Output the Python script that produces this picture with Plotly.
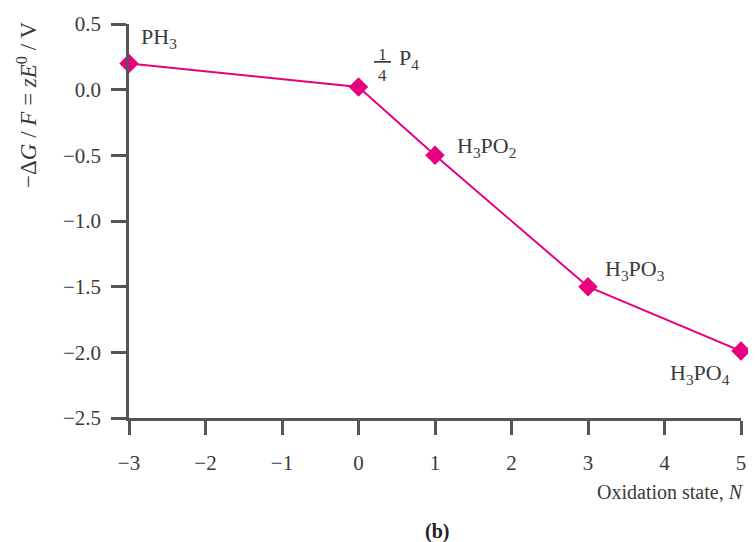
import plotly.graph_objects as go

# data
oxidation_state = [-3, 0, 1, 3, 5]
volt_equiv = [0.2, 0.02, -0.5, -1.5, -1.99]
species = ['PH<sub>3</sub>', 'P<sub>4</sub>', 'H<sub>3</sub>PO<sub>2</sub>',
           'H<sub>3</sub>PO<sub>3</sub>', 'H<sub>3</sub>PO<sub>4</sub>']
x_ticks = [-3, -2, -1, 0, 1, 2, 3, 4, 5]
y_ticks = [0.5, 0.0, -0.5, -1.0, -1.5, -2.0, -2.5]

PINK = '#E8007F'
AXIS = '#555555'
TXT = '#3a3a3a'
FONT = 'Liberation Serif'

fig = go.Figure(go.Scatter(x=oxidation_state, y=volt_equiv,
                           mode='lines+markers',
                           line=dict(color=PINK, width=2),
                           marker=dict(symbol='diamond', size=15, color=PINK),
                           cliponaxis=False, showlegend=False))

# species labels: pixel offsets from each point
offsets = [(10, 25), (38, 28), (20, 8), (15, 17), (-9, -23)]
anchors = ['left', 'left', 'left', 'left', 'right']
for x, y, s, (dx, dy), xa in zip(oxidation_state, volt_equiv, species, offsets, anchors):
    fig.add_annotation(x=x, y=y, text=s, showarrow=False, xshift=dx, yshift=dy,
                       xanchor=xa, yanchor='middle',
                       font=dict(family=FONT, size=22, color=TXT))

# the stacked 1/4 in front of P4 (underlined 1 over 4)
for txt, dy in [('<u> 1 </u>', 33), ('4', 12)]:
    fig.add_annotation(x=oxidation_state[1], y=volt_equiv[1], text=txt, showarrow=False,
                       xshift=24, yshift=dy, xanchor='center', yanchor='middle',
                       font=dict(family=FONT, size=17, color=TXT))

fig.add_annotation(xref='paper', yref='paper', x=1.008, y=-0.188, text='Oxidation state, <i>N</i>',
                   showarrow=False, xanchor='right', yanchor='middle',
                   font=dict(family=FONT, size=20, color=TXT))
fig.add_annotation(xref='paper', yref='paper', x=0.503, y=-0.289, text='<b>(b)</b>',
                   showarrow=False, xanchor='center', yanchor='middle',
                   font=dict(family=FONT, size=20, color='#222'))
fig.add_annotation(xref='paper', yref='paper', x=-0.167, y=0.794,
                   text='−Δ<i>G</i> / <i>F</i> = <i>zE</i><sup>0</sup> / V', textangle=-90,
                   showarrow=False, xanchor='center', yanchor='middle',
                   font=dict(family=FONT, size=23, color=TXT))

fig.update_xaxes(range=[-3, 5], tickvals=x_ticks,
                 ticktext=[str(v).replace('-', '−') for v in x_ticks],
                 showline=True, linecolor=AXIS, linewidth=2.5, ticks='outside',
                 ticklen=14, tickwidth=2.5, tickcolor=AXIS, showgrid=False, zeroline=False,
                 ticklabelstandoff=10, automargin=False,
                 tickfont=dict(family=FONT, size=21, color=TXT))
fig.update_yaxes(range=[-2.5, 0.5], tickvals=y_ticks,
                 ticktext=[f'{v:.1f}'.replace('-', '−') for v in y_ticks],
                 showline=True, linecolor=AXIS, linewidth=2.5, ticks='outside',
                 ticklen=15, tickwidth=2.5, tickcolor=AXIS, showgrid=False, zeroline=False,
                 ticklabelstandoff=6, automargin=False,
                 tickfont=dict(family=FONT, size=21, color=TXT))

# page body has an 8px margin, so the figure is shifted by that
fig.update_layout(width=748, height=534,
                  margin=dict(l=121, r=15, t=16, b=124),
                  plot_bgcolor='white', paper_bgcolor='white')

fig.write_html('out.html')
